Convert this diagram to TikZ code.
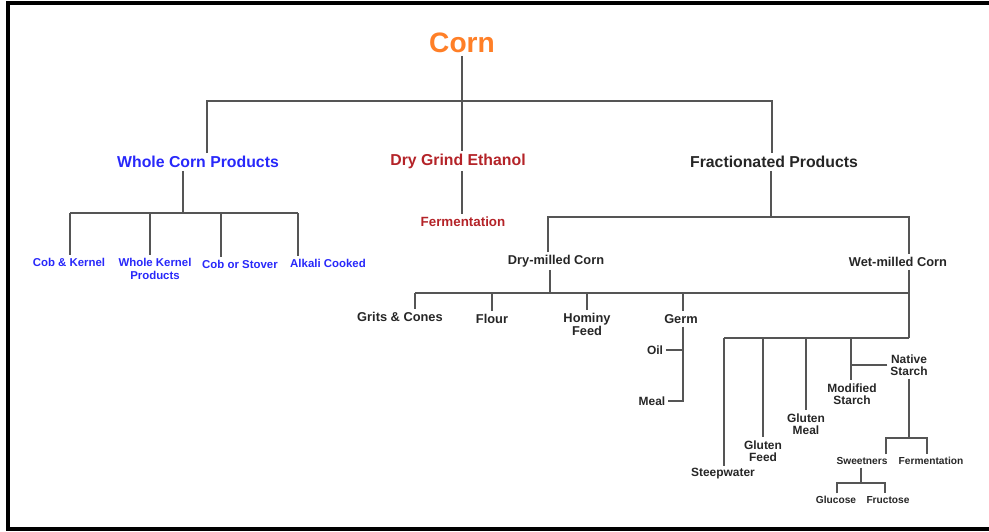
\documentclass[tikz,border=0pt]{standalone}
\usepackage{fontspec}
\setmainfont{Liberation Sans}
\usepackage{xcolor}
\definecolor{cornorange}{RGB}{255,127,39}
\definecolor{cornblue}{RGB}{40,40,250}
\definecolor{cornred}{RGB}{180,35,40}
\definecolor{corntext}{RGB}{38,38,38}
\definecolor{linegray}{RGB}{85,85,85}

\tikzset{
  txt/.style={inner sep=1.5pt, align=center},
  title/.style={txt, font=\bfseries\fontsize{16}{18}\selectfont, text=cornorange},
  main/.style={txt, font=\bfseries\fontsize{9}{10}\selectfont},
  leaf/.style={txt, font=\bfseries\fontsize{6.5}{7.4}\selectfont, text=cornblue},
  sub/.style={txt, font=\bfseries\fontsize{7.3}{7.4}\selectfont, text=corntext},
  small/.style={txt, font=\bfseries\fontsize{6.8}{7}\selectfont, text=corntext},
  tiny/.style={txt, font=\bfseries\fontsize{5.8}{6.5}\selectfont, text=corntext},
  link/.style={draw=linegray, line width=0.6pt},
}

\begin{document}
\begin{tikzpicture}[x=0.02cm, y=-0.02cm]
  \useasboundingbox (0,0) rectangle (989,531);
  % frame
  \draw[line width=2.3pt] (989,3) -- (8,3) -- (8,529) -- (989,529);

  % top level
  \node[title] (corn) at (462,43) {Corn};
  \node[main, text=cornblue] (whole) at (198,162) {Whole Corn Products};
  \node[main, text=cornred] (dry) at (458,161) {Dry Grind Ethanol};
  \node[main, text=corntext] (fract) at (774,162) {Fractionated Products};
  \node[main, text=cornred, font=\bfseries\fontsize{7.6}{8}\selectfont] (ferm) at (463,222) {Fermentation};
  \coordinate (jW) at (207,101);
  \coordinate (jF) at (772,101);
  \draw[link] (corn.south) -- (corn.south |- dry.north);
  \draw[link] (whole.north -| jW) -- (jW) -- (jF) -- (fract.north -| jF);
  \draw[link] (dry.south -| corn) -- (ferm.north -| corn);

  % whole corn
  \node[leaf] (cob) at (69,262) {Cob \& Kernel};
  \node[leaf] (kernel) at (155,269) {Whole Kernel\\Products};
  \node[leaf] (stover) at (240,264) {Cob or Stover};
  \node[leaf] (alkali) at (328,263) {Alkali Cooked};
  \coordinate (w0) at (183,213);
  \draw[link] (whole.south -| w0) -- (w0);
  \foreach \n/\x in {cob/70, kernel/150, stover/221, alkali/298} {
    \coordinate (\n-j) at (\x,213);
    \draw[link] (\n-j) -- (\n.north -| \n-j);
  }
  \draw[link] (cob-j) -- (alkali-j);

  % fractionated
  \node[sub] (drym) at (556,261) {Dry-milled Corn};
  \node[sub] (wetm) at (898,262) {Wet-milled Corn};
  \coordinate (f0) at (771,217);
  \coordinate (f1) at (548,217);
  \coordinate (f2) at (909,217);
  \draw[link] (fract.south -| f0) -- (f0);
  \draw[link] (drym.north -| f1) -- (f1) -- (f2) -- (wetm.north -| f2);

  % dry-milled
  \node[sub] (grits) at (400,317) {Grits \& Cones};
  \node[sub] (flour) at (492,319) {Flour};
  \node[sub] (hominy) at (587,324) {Hominy\\Feed};
  \node[sub] (germ) at (681,319) {Germ};
  \node[small] (oil) at (655,350) {Oil};
  \node[small] (meal) at (652,401) {Meal};
  \coordinate (d0) at (550,293);
  \coordinate (d5) at (909,293);
  \draw[link] (drym.south -| d0) -- (d0);
  \foreach \n/\x in {grits/415, flour/492, hominy/587, germ/683} {
    \coordinate (\n-j) at (\x,293);
    \draw[link] (\n-j) -- (\n.north -| \n-j);
  }
  \draw[link] (grits-j) -- (d5);
  \coordinate (g1) at (683,401);
  \draw[link] (germ.south -| g1) -- (g1) -- (meal.east);
  \draw[link] (oil.east) -- (oil.east -| g1);

  % wet-milled
  \node[small] (steep) at (723,474) {Steepwater};
  \node[small] (gfeed) at (763,451) {Gluten\\Feed};
  \node[small] (gmeal) at (806,424) {Gluten\\Meal};
  \node[small] (modst) at (852,394) {Modified\\Starch};
  \node[small] (native) at (909,365) {Native\\Starch};
  \coordinate (e0) at (909,338);
  \draw[link] (wetm.south -| e0) -- (e0);
  \foreach \n/\x in {steep/724, gfeed/763, gmeal/806, modst/851} {
    \coordinate (\n-j) at (\x,338);
    \draw[link] (\n-j) -- (\n.north -| \n-j);
  }
  \draw[link] (steep-j) -- (e0);
  \draw[link] (native.west) -- (native.west -| modst-j);

  % native starch
  \node[tiny] (sweet) at (862,461) {Sweetners};
  \node[tiny] (ferm2) at (931,461) {Fermentation};
  \node[tiny] (glucose) at (836,500) {Glucose};
  \node[tiny] (fructose) at (888,500) {Fructose};
  \coordinate (n0) at (909,438);
  \coordinate (n1) at (886,438);
  \coordinate (n2) at (927,438);
  \draw[link] (native.south -| n0) -- (n0);
  \draw[link] (sweet.north -| n1) -- (n1) -- (n2) -- (ferm2.north -| n2);
  \coordinate (s0) at (861,483);
  \coordinate (s1) at (837,483);
  \coordinate (s2) at (885,483);
  \draw[link] (sweet.south -| s0) -- (s0);
  \draw[link] (glucose.north -| s1) -- (s1) -- (s2) -- (fructose.north -| s2);
\end{tikzpicture}
\end{document}
